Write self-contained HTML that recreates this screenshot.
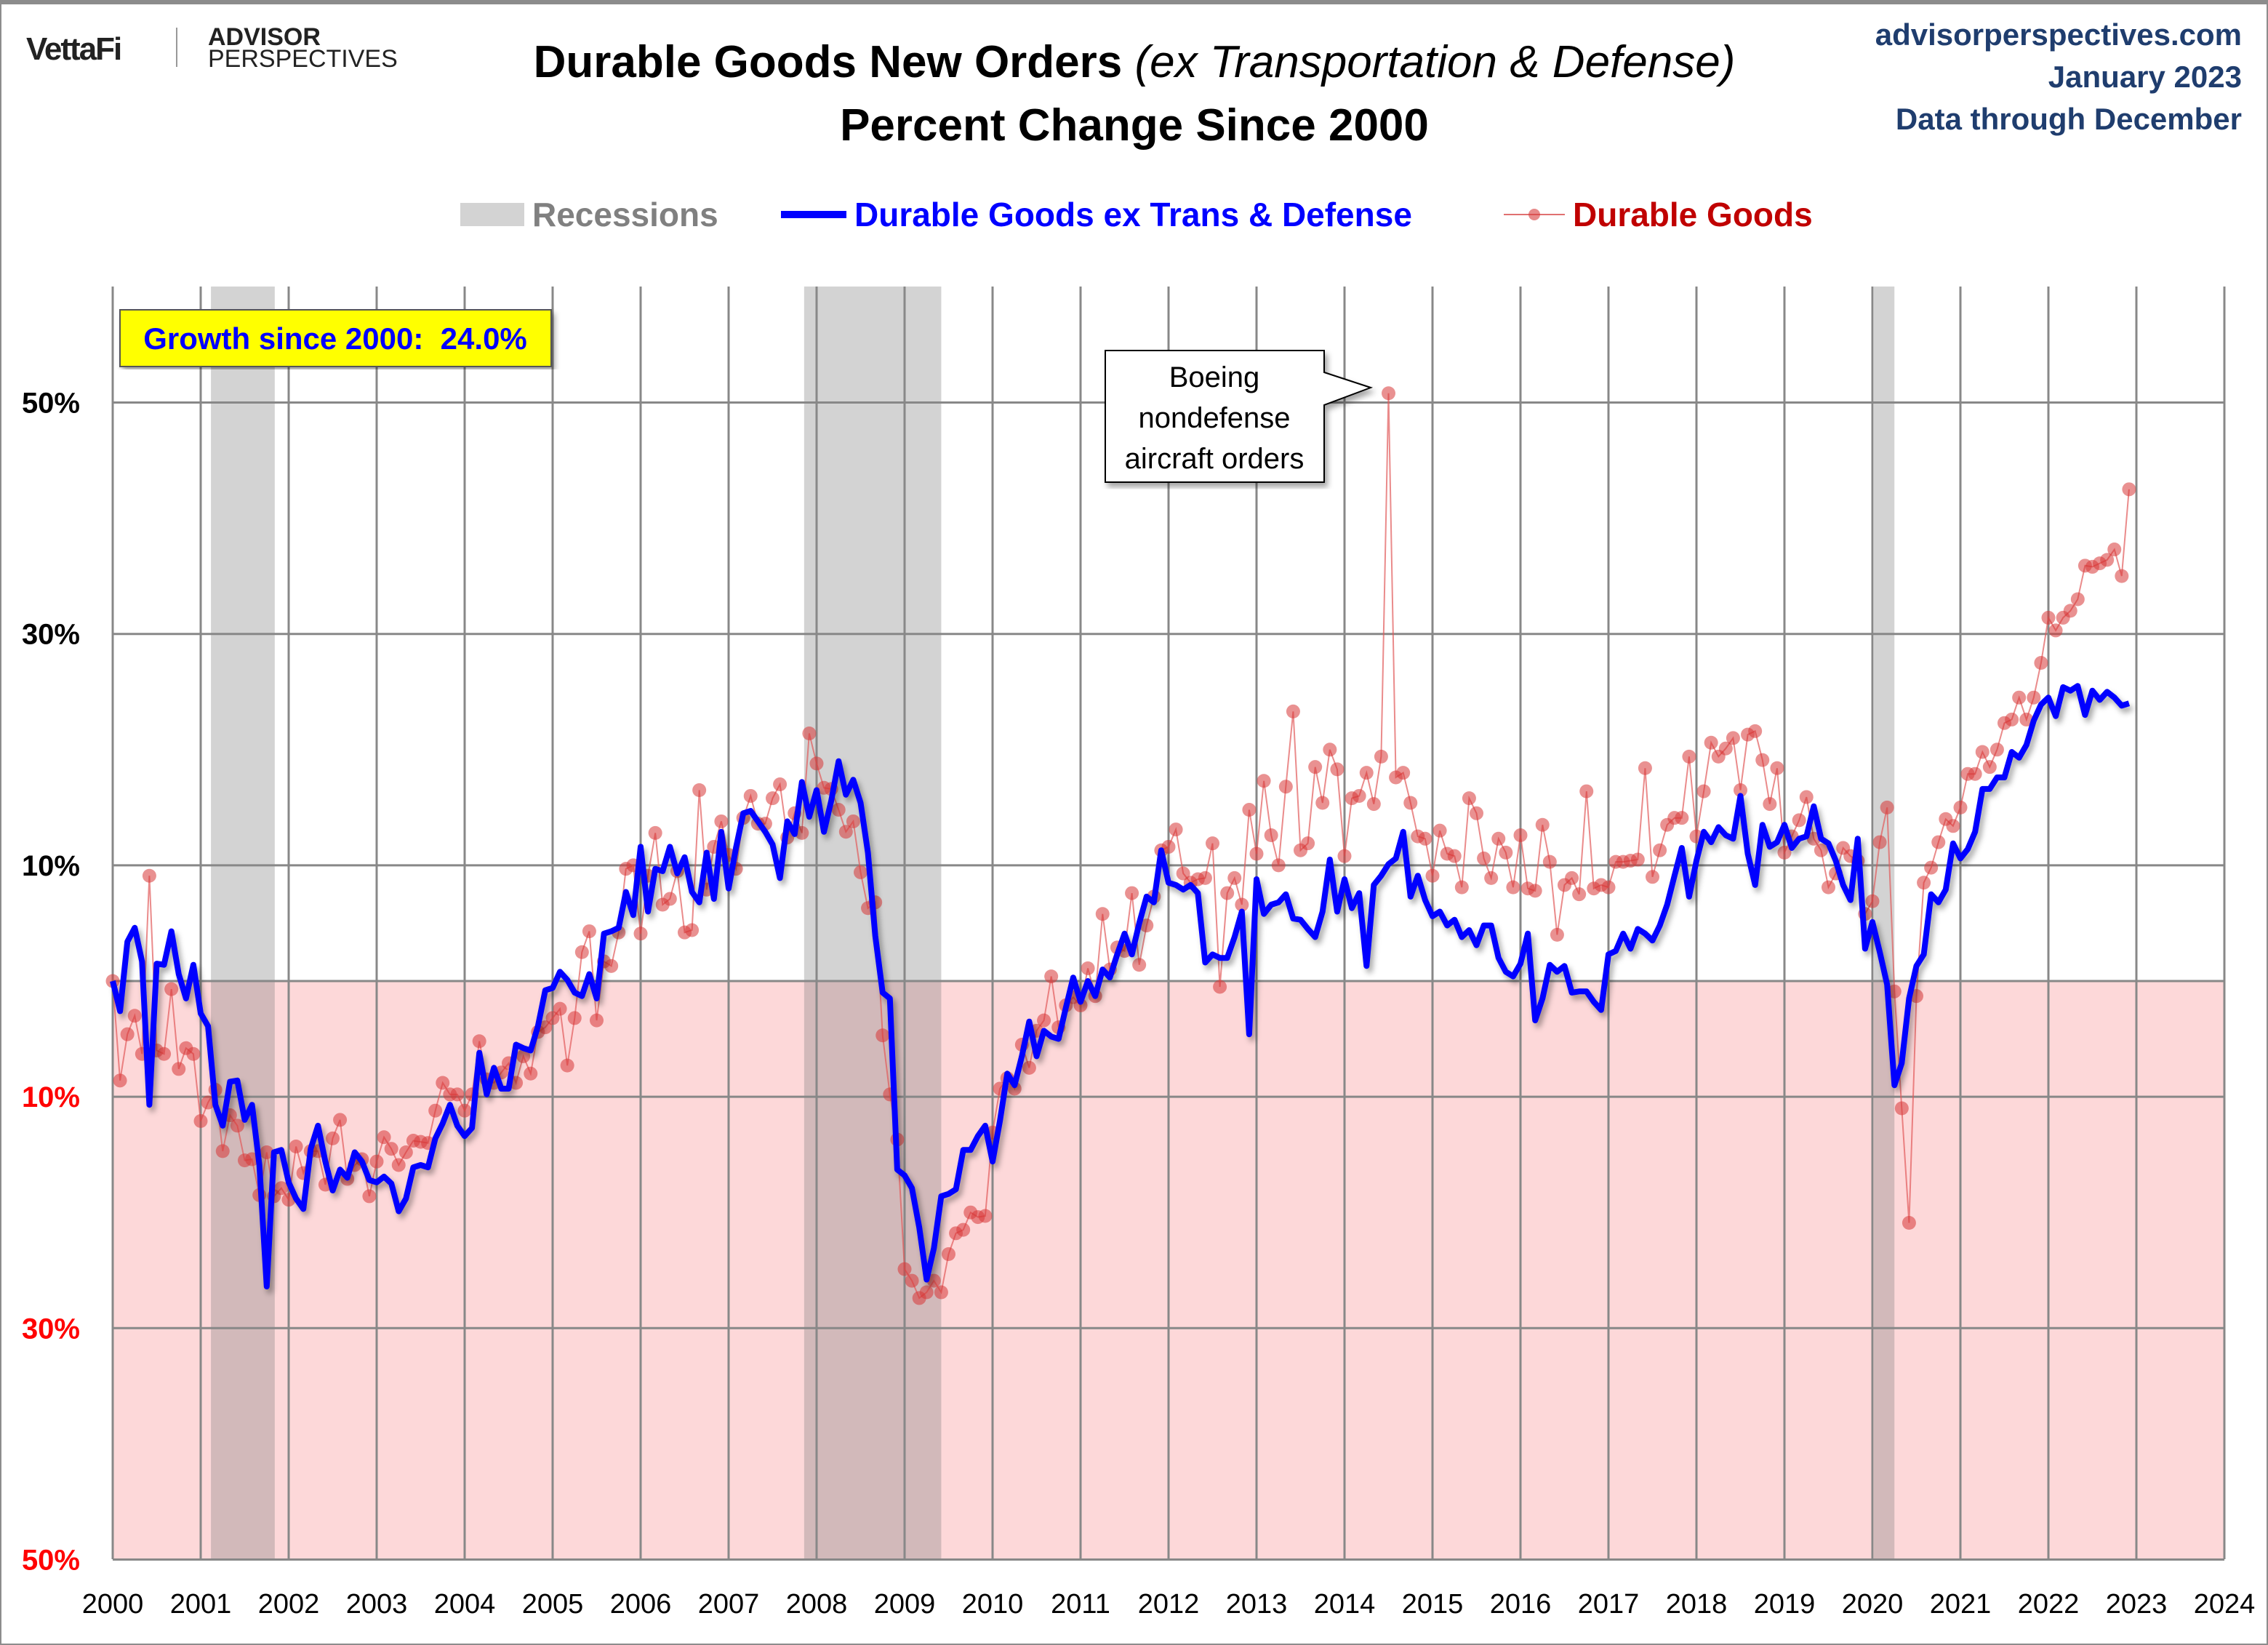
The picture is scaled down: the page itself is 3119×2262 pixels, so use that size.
<!DOCTYPE html>
<html><head><meta charset="utf-8"><style>
html,body{margin:0;padding:0;background:#fff}
svg{display:block}
text{font-family:"Liberation Sans",sans-serif}
</style></head><body>
<svg id="chart" width="3119" height="2262" viewBox="0 0 3119 2262" xmlns="http://www.w3.org/2000/svg">
<defs>
<filter id="sh" x="-5%" y="-5%" width="110%" height="110%"><feDropShadow dx="4" dy="6" stdDeviation="4" flood-color="#000" flood-opacity="0.35"/></filter>
</defs>
<rect x="1" y="1" width="3117" height="2260" fill="#fff" stroke="#8c8c8c" stroke-width="2"/>
<rect x="0" y="0" width="3119" height="6" fill="#8c8c8c"/>
<g>
<text x="36" y="82" font-size="44" font-weight="bold" fill="#222" letter-spacing="-2">VettaFi</text>
<line x1="243" y1="38" x2="243" y2="92" stroke="#999" stroke-width="2"/>
<text x="286" y="62" font-size="34" font-weight="bold" fill="#222">ADVISOR</text>
<text x="286" y="92" font-size="34" fill="#222">PERSPECTIVES</text>
</g>
<text x="1560" y="106" text-anchor="middle" font-size="62" font-weight="bold" fill="#000">Durable Goods New Orders <tspan font-style="italic" font-weight="normal">(ex Transportation &amp; Defense)</tspan></text>
<text x="1560" y="193" text-anchor="middle" font-size="62" font-weight="bold" fill="#000">Percent Change Since 2000</text>
<g fill="#1f3d6e" font-size="42" font-weight="bold" text-anchor="end">
<text x="3083" y="62">advisorperspectives.com</text>
<text x="3083" y="120">January 2023</text>
<text x="3083" y="178">Data through December</text>
</g>
<g font-size="46" font-weight="bold">
<g><rect x="633" y="279" width="88" height="32" fill="#d3d3d3"/><text x="732" y="311" fill="#808080">Recessions</text></g>
<g><line x1="1074" y1="295" x2="1164" y2="295" stroke="#0000ff" stroke-width="10"/><text x="1175" y="311" fill="#0000ff">Durable Goods ex Trans &amp; Defense</text></g>
<g><line x1="2068" y1="295" x2="2152" y2="295" stroke="#e07070" stroke-width="2"/><circle cx="2110" cy="295" r="8" fill="rgba(215,60,60,0.6)"/><text x="2163" y="311" fill="#c00000">Durable Goods</text></g>
</g>
<g id="plot"></g>
<g>
<rect x="165" y="426" width="593" height="78" fill="#ffff00" stroke="#555" stroke-width="2" filter="url(#sh)"/>
<text x="461" y="480" text-anchor="middle" font-size="42" font-weight="bold" fill="#0000ff" xml:space="preserve">Growth since 2000:  24.0%</text>
</g>
<g>
<path d="M1520,482 H1821 V512 L1885,533 L1821,557 V663 H1520 Z" fill="#fff" stroke="#000" stroke-width="2" filter="url(#sh)"/>
<text x="1670" y="532" text-anchor="middle" font-size="40" fill="#000">Boeing</text>
<text x="1670" y="588" text-anchor="middle" font-size="40" fill="#000">nondefense</text>
<text x="1670" y="644" text-anchor="middle" font-size="40" fill="#000">aircraft orders</text>
</g>
</svg>
<script>
const years=[2000,2001,2002,2003,2004,2005,2006,2007,2008,2009,2010,2011,2012,2013,2014,2015,2016,2017,2018,2019,2020,2021,2022,2023,2024];
const yTicks=[50,30,10,0,-10,-30,-50];
const yTickLabels=["50%","30%","10%","","10%","30%","50%"];
const recessionStarts=[13.4,94.3,240.2];
const recessionEnds=[22.1,113,243];
const exTrans=[
0,-2.6,3.4,4.6,1.7,-10.7,1.5,1.4,4.3,0.6,-1.5,1.4,
-2.8,-3.9,-10.7,-12.5,-8.7,-8.6,-12,-10.7,-15.9,-26.4,-14.8,-14.6,
-17.4,-18.8,-19.7,-14.5,-12.5,-15.6,-18.1,-16.3,-17,-14.8,-15.6,-17.2,
-17.4,-16.9,-17.5,-19.9,-18.8,-16.1,-15.9,-16.1,-13.6,-12.3,-10.7,-12.5,
-13.4,-12.7,-6.2,-9.8,-7.5,-9.3,-9.3,-5.5,-5.8,-6,-3.9,-0.8,
-0.6,0.8,0.1,-1,-1.3,0.6,-1.5,4.1,4.3,4.6,7.7,5.7,
11.6,6,9.7,9.5,11.6,9.3,10.7,7.7,6.8,11.1,7.1,12.9,
8,11.5,14.5,14.7,13.8,12.9,11.8,8.9,13.8,12.7,17.2,14.2,
16.5,12.9,15.6,19,16.1,17.4,15.4,11.1,3.9,-1,-1.5,-16.3,
-16.8,-17.9,-21.3,-25.8,-23.1,-18.6,-18.4,-18,-14.6,-14.6,-13.4,-12.5,
-15.6,-12.1,-8,-9,-6.5,-3.5,-6.5,-4.3,-4.8,-5,-2.3,0.3,
-1.8,0,-1.3,1,0.3,2.3,4.1,2.3,5,7.3,6.8,11.3,
8.5,8.3,7.9,8.3,7.6,1.6,2.3,2,2,3.8,6,-4.6,
8.8,5.8,6.6,6.8,7.5,5.4,5.3,4.5,3.8,6,10.5,6,
8.8,6.3,7.6,1.3,8.3,9.1,10.1,10.6,12.9,7.3,9.1,7,
5.6,6,4.8,5.3,3.8,4.4,3.1,4.8,4.8,2,0.8,0.4,
1.5,4.1,-3.4,-1.5,1.4,0.8,1.3,-1,-0.9,-0.9,-1.8,-2.5,
2.3,2.6,4.1,2.8,4.5,4.1,3.5,4.8,6.6,9.1,11.5,7.3,
10.4,12.9,12,13.3,12.6,12.3,16,11,8.3,13.5,11.6,12,
13.5,11.5,12.3,12.5,15.1,12.3,11.9,10.4,8.3,7,12.3,2.8,
5.1,2.5,-0.3,-9,-7.1,-1.5,1.3,2.3,7.5,6.8,7.9,11.9,
10.6,11.4,12.9,16.6,16.6,17.6,17.6,19.8,19.3,20.4,22.5,23.9,
24.5,22.9,25.4,25.1,25.5,23,25.1,24.3,25,24.5,23.8,24];
const durable=[
0,-8.6,-4.6,-3,-6.3,9.1,-6,-6.3,-0.7,-7.6,-5.8,-6.3,
-12.1,-10.5,-9.4,-14.7,-11.6,-12.5,-15.5,-15.4,-18.5,-14.8,-18.6,-17.9,
-18.9,-14.3,-16.6,-14.7,-14.7,-17.6,-13.6,-12,-17.1,-15.9,-15.4,-18.6,
-15.6,-13.5,-14.5,-15.9,-14.8,-13.8,-13.9,-14,-11.2,-8.8,-9.8,-9.8,
-11.2,-9.8,-5.2,-8.5,-8.8,-7.9,-7.1,-8.8,-6.5,-8,-4.4,-4,
-3.2,-2.4,-7.3,-3.2,2.5,4.3,-3.4,1.7,1.3,4.2,9.7,10,
4.1,9.1,12.8,6.6,7.1,9.5,4.2,4.4,16.5,7.9,11.6,13.8,
10.9,9.7,14.1,16,13.6,13.6,15.8,17,12.4,14.5,12.8,21.4,
18.8,16.7,16.6,14.8,12.9,13.8,9.4,6.3,6.8,-4.7,-9.8,-13.7,
-24.9,-25.9,-27.4,-26.9,-25.9,-26.9,-23.6,-21.8,-21.5,-20,-20.4,-20.3,
-13.1,-9.3,-8.4,-9.3,-5.5,-7.5,-4.3,-3.4,0.4,-4,-2.1,-1.4,
-2.1,1.1,-1.3,5.8,1,2.9,2.6,7.6,1.4,4.8,7.3,11.3,
11.6,13.1,9.3,8.5,8.8,8.9,11.9,-0.5,7.6,8.9,6.6,14.8,
11,17.3,12.6,10,16.8,23.3,11.3,11.9,18.5,15.4,20,18.3,
10.8,15.8,16,18,15.3,19.4,50.8,17.6,18,15.4,12.5,12.3,
9.1,13,11,10.8,8.1,15.8,14.5,10.6,8.9,12.3,11.1,8.1,
12.6,8,7.8,13.5,10.3,4,8.3,8.9,7.5,16.4,8,8.3,
8.1,10.3,10.3,10.4,10.5,18.4,9,11.3,13.5,14.1,14.1,19.4,
12.5,16.4,20.6,19.4,20.1,21,16.5,21.3,21.6,19.1,15.3,18.4,
11.1,12.5,13.9,15.9,12.3,11.3,8.1,9.3,11.5,10.8,10.4,5.8,
6.9,12,15,-0.9,-11,-20.9,-1.3,8.5,9.8,12,14,13.4,
15,17.9,17.9,19.8,18.5,20,22.3,22.6,24.5,22.6,24.5,27.5,
31.4,30.3,31.4,32,33,35.9,35.8,36.1,36.4,37.3,35,42.5];

const L=155,R=3059,TOP=394,BOT=2144;
const X0=155, perMonth=(R-L)/(24*12);
const xs=m=>X0+m*perMonth;
const yZero=1349, perPct=15.91;
const ys=v=>yZero-v*perPct;
const NS="http://www.w3.org/2000/svg";
const plot=document.getElementById('plot');
function mk(tag,attrs,parent){const e=document.createElementNS(NS,tag);for(const k in attrs)e.setAttribute(k,attrs[k]);(parent||plot).appendChild(e);return e;}

let e=mk('rect',{x:L,y:ys(0),width:R-L,height:BOT-ys(0),fill:'#fdd8d9'});



for(let i=0;i<recessionStarts.length;i++){
  e=mk('rect',{x:xs(recessionStarts[i]),y:TOP,width:xs(recessionEnds[i])-xs(recessionStarts[i]),height:BOT-TOP,fill:'rgba(128,128,128,0.35)'});
  
  
}
for(let i=0;i<yTicks.length;i++){
  const y=ys(yTicks[i]);
  e=mk('line',{x1:L,x2:R,y1:y,y2:y,stroke:'#888',"stroke-width":3});
  
  
  e=mk('text',{x:110,y:y+14,"text-anchor":"end","font-size":40,"font-weight":"bold",fill:yTicks[i]<0?'#ff0000':'#000'});
  e.textContent=yTickLabels[i];
  
  
}
for(let i=0;i<years.length;i++){
  const x=xs(i*12);
  e=mk('line',{x1:x,x2:x,y1:TOP,y2:BOT,stroke:'#888',"stroke-width":3});
  
  
  e=mk('text',{x:x,y:2218,"text-anchor":"middle","font-size":38,fill:'#000'});
  e.textContent=years[i];
  
  
}
const redPts=durable.map((v,i)=>xs(i).toFixed(1)+','+ys(v).toFixed(1)).join(' ');
e=mk('polyline',{points:redPts,fill:'none',stroke:'rgba(225,90,90,0.7)',"stroke-width":2});


const dg=mk('g',{});


durable.forEach((v,i)=>{
  const c=mk('circle',{cx:xs(i),cy:ys(v),r:9.5,fill:'rgba(215,55,55,0.55)'},dg);
  
  
});
const bluePts=exTrans.map((v,i)=>xs(i).toFixed(1)+','+ys(v).toFixed(1)).join(' ');
e=mk('polyline',{points:bluePts,fill:'none',stroke:'#0000ff',"stroke-width":8,"stroke-linejoin":"round",filter:'url(#sh)'});


</script>
</body></html>
